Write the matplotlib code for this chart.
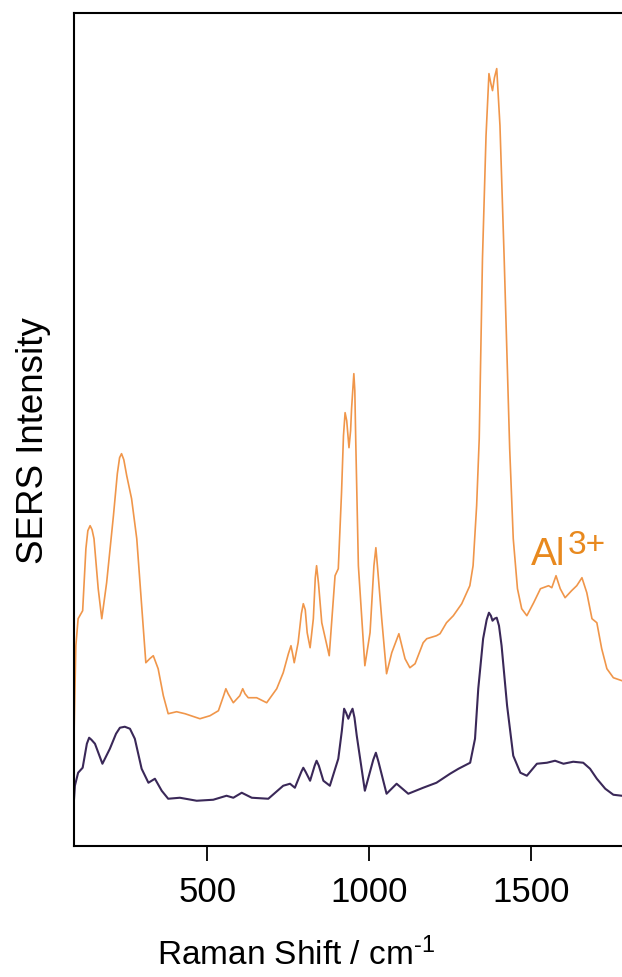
import numpy as np
import matplotlib
matplotlib.use("Agg")
import matplotlib.pyplot as plt

plt.rcParams['font.family'] = ['Liberation Sans', 'DejaVu Sans']
plt.rcParams['mathtext.fontset'] = 'custom'
plt.rcParams['mathtext.rm'] = 'Liberation Sans'
plt.rcParams['mathtext.it'] = 'Liberation Sans:italic'

# Al3+ spectrum (orange)
shift_al = [88, 94, 101, 115, 125, 131, 138, 144, 150, 163, 174, 189, 210, 222, 229, 235, 242,
            251, 266, 282, 297, 310, 322, 333, 348, 364, 379, 405, 431, 477, 508, 534, 550,
            557, 564, 580, 600, 609, 616, 626, 652, 683, 714, 734, 750, 758, 763, 768, 780,
            790, 796, 802, 808, 817, 827, 833, 837, 843, 853, 876, 894, 904, 914, 920, 925,
            930, 937, 942, 945, 952, 955, 958, 966, 986, 1002, 1014, 1020, 1026, 1038, 1053,
            1069, 1091, 1110, 1125, 1141, 1166, 1177, 1207, 1218, 1238, 1259, 1285, 1310,
            1320, 1331, 1339, 1349, 1360, 1369, 1375, 1380, 1386, 1393, 1403, 1416, 1433,
            1444, 1457, 1470, 1486, 1507, 1528, 1553, 1563, 1576, 1589, 1604, 1624, 1640,
            1656, 1671, 1687, 1702, 1717, 1733, 1753, 1779, 1800]
int_al = [105, 200, 227, 235, 297, 315, 320, 316, 307, 257, 227, 263, 330, 372, 388, 392, 386,
          370, 347, 307, 240, 183, 187, 190, 177, 150, 132, 134, 132, 127, 130, 135, 150,
          157, 152, 143, 150, 157, 152, 148, 148, 143, 157, 173, 192, 200, 192, 183, 203,
          232, 242, 236, 213, 198, 227, 268, 280, 262, 223, 190, 270, 277, 353, 410, 433,
          425, 398, 415, 437, 472, 455, 403, 280, 180, 213, 280, 298, 275, 227, 172,
          193, 212, 187, 178, 182, 203, 207, 210, 212, 223, 230, 242, 260,
          280, 340, 407, 587, 710, 772, 762, 755, 768, 777, 720, 587, 397,
          307, 257, 237, 230, 243, 257, 260, 258, 270, 257, 248, 255, 260,
          268, 253, 227, 223, 197, 177, 168, 165, 163]

# reference spectrum (purple)
shift_ref = [88, 91, 101, 115, 128, 135, 142, 153, 176, 199, 218, 230, 245, 261, 276, 297, 318,
             338, 359, 379, 415, 467, 518, 559, 580, 606, 637, 688, 734, 755, 770, 790, 796,
             803, 817, 831, 837, 844, 858, 878, 904, 915, 922, 928, 935, 942, 948, 954, 961,
             986, 1012, 1020, 1028, 1053, 1084, 1120, 1166, 1207, 1249, 1275, 1311, 1326,
             1336, 1351, 1362, 1369, 1375, 1380, 1386, 1393, 1400, 1408, 1425, 1444, 1466,
             1486, 1517, 1548, 1573, 1599, 1629, 1660, 1681, 1702, 1728, 1753, 1779, 1800]
int_ref = [45, 60, 73, 78, 102, 108, 106, 102, 82, 97, 112, 118, 119, 117, 107, 77, 63,
           67, 55, 47, 48, 45, 46, 50, 48, 53, 48, 47, 60, 62, 58, 74, 78,
           74, 65, 80, 85, 80, 65, 60, 87, 115, 137, 133, 127, 133, 137, 128, 110,
           55, 86, 93, 84, 52, 62, 52, 58, 63, 72, 77, 83, 107,
           157, 207, 226, 233, 230, 225, 227, 228, 220, 200, 140, 90, 73,
           70, 82, 83, 85, 82, 84, 83, 77, 67, 57, 51, 50, 50]

xticks = [500, 1000, 1500]

fig = plt.figure(figsize=(6.22, 9.78), dpi=100)
ax = fig.add_axes([0.1183, 0.1342, 0.8923, 0.8519])

ax.plot(shift_al, int_al, color='#F0964A', lw=1.2)
ax.plot(shift_ref, int_ref, color='#3A2858', lw=1.5)

# ion label with a large superscript
al = ax.text(1500, 282, 'Al', color='#E8891E', fontsize=28, va='baseline', ha='left')
ax.annotate('3+', xy=(1.0, 1.0), xycoords=al, xytext=(1, 5), textcoords='offset points',
            color='#E8891E', fontsize=24, va='top', ha='left')

ax.set_xlim(87, 1800)
ax.set_ylim(0, 833)
ax.set_xticks(xticks)
ax.set_yticks([])
ax.tick_params(axis='x', direction='out', length=11, width=1.3, labelsize=25, pad=10)
for s in ['left', 'top', 'bottom']:
    ax.spines[s].set_linewidth(1.5)
ax.spines['right'].set_visible(False)

ax.set_xlabel(r'Raman Shift / cm$^{\text{-1}}$', fontsize=24)
ax.xaxis.set_label_coords(0.40, -0.109)
ax.set_ylabel('SERS Intensity', fontsize=26.5)
ax.yaxis.set_label_coords(-0.04, 0.487)

fig.savefig('out.png', dpi=100)
